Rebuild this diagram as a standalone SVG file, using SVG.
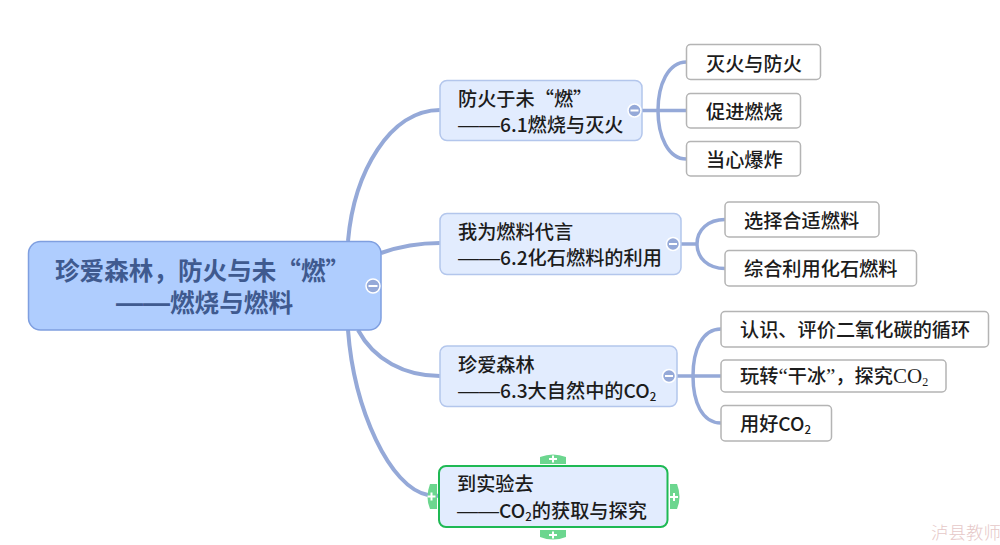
<svg xmlns="http://www.w3.org/2000/svg" width="1000" height="545" viewBox="0 0 1000 545">
<style>
text{font-family:"Noto Sans CJK SC","Noto Sans",sans-serif;font-size:19.2px;fill:#1c1c1c;font-weight:500}
.rt{font-size:24.6px;font-weight:700;fill:#3f5a8f}
.d{font-family:"Liberation Sans",sans-serif;font-size:21px;font-weight:400}
.rd{font-family:"Liberation Sans",sans-serif;font-size:27px;font-weight:700}
.sub{fill:#fff;stroke:#b4b4b4;stroke-width:1.5}
.main{fill:#e2ecfe;stroke:#b3c6ec;stroke-width:1.5}
.s{font-size:11.500px}
.sf{font-family:"Liberation Serif",serif;font-size:21px}
.t{fill:none;stroke:#95a9d8;stroke-width:4}
.b{fill:none;stroke:#95a9d8;stroke-width:3.5}
.tab{fill:#6cd68f}
.pm{stroke:#fff;stroke-width:2;fill:none}
.col{fill:#95a9d8;stroke:#fff;stroke-width:1.5}
.dash{stroke:#fff;stroke-width:2}
</style>
<g id="connectors">
<path class="t" d="M348 241C354 172 390 110 440 110"/>
<path class="t" d="M381 253C398 247 418 243 440 243"/>
<path class="t" d="M358 330C374 360 405 376 440 376"/>
<path class="t" d="M348 330C354 410 390 488 428 495L440 496"/>
<path class="b" d="M642 110.500H686.500M686.500 62C668 62 658 85 658 110.500C658 136 668 159 686.500 159"/>
<path class="b" d="M681 244H697M725 219.500C708 219.500 697 230 697 244C697 258 708 268.500 725 268.500"/>
<path class="b" d="M677 376H721M721 329C702 329 693 350 693 376C693 402 702 423 721 423"/>
</g>
<g id="root">
<rect x="28.500" y="241.500" width="352.500" height="88.500" rx="12" fill="#afcdfe" stroke="#7f9fe0" stroke-width="1.500"/>
<text class="rt" x="55" y="280">珍爱森林&#xFF0C;防火与未“燃”</text>
<text class="rt" x="116" y="312"><tspan class="rd">——</tspan>燃烧与燃料</text>
<circle class="col" cx="373" cy="286" r="7"/><path class="dash" d="M368.500 286H377.500"/>
</g>
<g id="node-1">
<rect class="main" x="440" y="80.500" width="202" height="60" rx="7"/>
<text x="458" y="106">防火于未“燃”</text>
<text x="458" y="132"><tspan class="d">——</tspan>6.1燃烧与灭火</text>
<circle class="col" cx="634.500" cy="110.500" r="6.500"/><path class="dash" d="M630.500 110.500H638.500"/>
</g>
<g id="node-2">
<rect class="main" x="440" y="213.500" width="241" height="61" rx="7"/>
<text x="458" y="239">我为燃料代言</text>
<text x="458" y="265"><tspan class="d">——</tspan>6.2化石燃料的利用</text>
<circle class="col" cx="673" cy="244" r="6.500"/><path class="dash" d="M669 244H677"/>
</g>
<g id="node-3">
<rect class="main" x="440" y="346" width="237" height="60.500" rx="7"/>
<text x="458" y="372">珍爱森林</text>
<text x="458" y="398"><tspan class="d">——</tspan>6.3大自然中的CO<tspan class="s" dy="3">2</tspan></text>
<circle class="col" cx="669" cy="376" r="6.500"/><path class="dash" d="M665 376H673"/>
</g>
<g id="node-4">
<path class="tab" d="M540 464V457Q553 452 566 457V464Z"/>
<path class="tab" d="M540 530V537Q553 542 566 537V530Z"/>
<path class="tab" d="M437 484H430Q425 497 430 509H437Z"/>
<path class="tab" d="M670 484H677Q682 497 677 509H670Z"/>
<path class="pm" d="M549 459H557M553 455.500V462.500"/>
<path class="pm" d="M549 535H557M553 531.500V538.500"/>
<path class="pm" d="M427.500 496.500H435.500M431.500 492.500V500.500"/>
<path class="pm" d="M670 497H678M674 493V501"/>
<rect x="439" y="466" width="228.500" height="61" rx="7" fill="#e2ecfe" stroke="#1fb954" stroke-width="2"/>
<text x="457" y="491">到实验去</text>
<text x="457" y="518"><tspan class="d">——</tspan>CO<tspan class="s" dy="3">2</tspan><tspan dy="-3">的获取与探究</tspan></text>
</g>
<g id="sub-1"><rect class="sub" x="686.500" y="44.500" width="134" height="35" rx="4"/><text x="706" y="71">灭火与防火</text></g>
<g id="sub-2"><rect class="sub" x="686.500" y="93.500" width="114" height="34.500" rx="4"/><text x="706" y="119">促进燃烧</text></g>
<g id="sub-3"><rect class="sub" x="686.500" y="141.500" width="114" height="34.500" rx="4"/><text x="706" y="167">当心爆炸</text></g>
<g id="sub-4"><rect class="sub" x="725" y="202" width="154" height="35" rx="4"/><text x="744" y="228">选择合适燃料</text></g>
<g id="sub-5"><rect class="sub" x="725" y="250.500" width="191.500" height="35.500" rx="4"/><text x="744" y="276">综合利用化石燃料</text></g>
<g id="sub-6"><rect class="sub" x="721" y="311.500" width="267.500" height="35.500" rx="4"/><text x="740" y="337">认识、评价二氧化碳的循环</text></g>
<g id="sub-7"><rect class="sub" x="721" y="360" width="225" height="32" rx="4"/><text x="740" y="383">玩转<tspan class="sf">“</tspan>干冰<tspan class="sf">”</tspan>&#xFF0C;探究<tspan class="sf">CO</tspan><tspan dy="3" class="sf" style="font-size:12px">2</tspan></text></g>
<g id="sub-8"><rect class="sub" x="721" y="405.500" width="110.500" height="35.500" rx="4"/><text x="740" y="431">用好CO<tspan class="s" dy="3">2</tspan></text></g>
<text x="931" y="539" style="font-size:17.500px;font-weight:300;fill:#e6c8c8">泸县教师</text>
</svg>
